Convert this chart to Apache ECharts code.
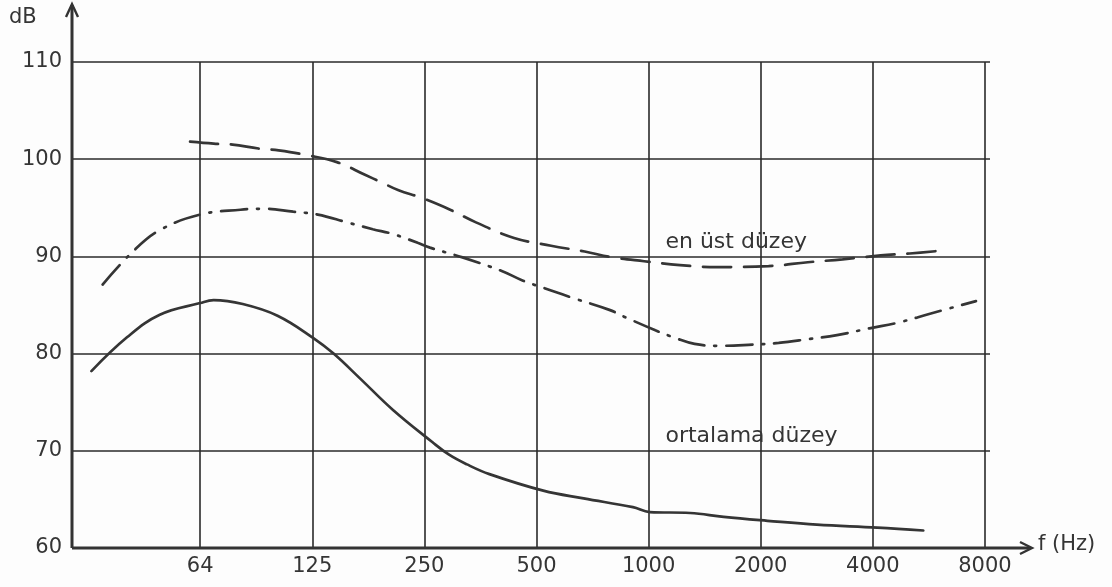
<!DOCTYPE html>
<html><head><meta charset="utf-8">
<script src="https://cdn.jsdelivr.net/npm/echarts@6/dist/echarts.min.js"></script>
<style>html,body{margin:0;padding:0;background:#fdfdfd}#c{width:1112px;height:587px}</style>
</head><body><div id="c"></div>
<script>
// x positions are octave indices: log2(f) (64 Hz = 6 ... 8000 Hz ~ 13)
const octaveTicks = [6, 7, 8, 9, 10, 11, 12, 13];
const tickLabels = ['64', '125', '250', '500', '1000', '2000', '4000', '8000'];
const yMin = 60, yMax = 110, yStep = 10;

// "en üst düzey" (dashed)
const upperX = [5.91, 6.12, 6.29, 6.52, 6.70, 6.96, 7.22, 7.47, 7.62, 7.77, 7.98, 8.23, 8.46, 8.80, 9.13, 9.43, 9.68, 9.96, 10.28, 10.61, 11.07, 11.42, 11.73, 12.07, 12.33, 12.62];
const upperDb = [101.8, 101.6, 101.5, 101.1, 100.9, 100.4, 99.7, 98.4, 97.6, 96.8, 96.0, 94.8, 93.5, 91.9, 91.1, 90.5, 89.9, 89.5, 89.1, 88.9, 89.0, 89.4, 89.7, 90.1, 90.3, 90.6];

// dash-dot curve
const midX = [5.13, 5.40, 5.64, 6.00, 6.36, 6.56, 6.83, 7.05, 7.31, 7.54, 7.72, 7.94, 8.05, 8.34, 8.69, 8.88, 9.13, 9.33, 9.65, 9.80, 10.06, 10.24, 10.41, 10.63, 10.89, 11.16, 11.43, 11.68, 11.97, 12.23, 12.51, 12.92];
const midDb = [87.1, 90.5, 92.7, 94.3, 94.8, 94.9, 94.6, 94.3, 93.5, 92.8, 92.3, 91.4, 90.9, 89.9, 88.5, 87.5, 86.5, 85.7, 84.5, 83.7, 82.4, 81.6, 81.0, 80.8, 80.9, 81.1, 81.5, 81.9, 82.6, 83.2, 84.1, 85.4];

// "ortalama düzey" (solid)
const avgX = [5.03, 5.35, 5.64, 6.00, 6.12, 6.38, 6.69, 7.01, 7.19, 7.43, 7.72, 8.07, 8.22, 8.38, 8.58, 9.06, 9.42, 9.86, 10.01, 10.37, 10.67, 11.06, 11.50, 12.04, 12.45];
const avgDb = [78.2, 81.7, 84.0, 85.2, 85.5, 85.1, 83.9, 81.6, 80.0, 77.4, 74.2, 70.9, 69.6, 68.6, 67.6, 65.9, 65.1, 64.2, 63.7, 63.6, 63.2, 62.8, 62.4, 62.1, 61.8];

const labelUpper = 'en üst düzey';
const labelAvg = 'ortalama düzey';

const zip = (xs, ys) => xs.map((x, i) => [x, ys[i]]);
const ink = '#353535';
const font = 'DejaVu Sans';
const xMin = 4.857, xMax = 13.045;

const chart = echarts.init(document.getElementById('c'), null, {renderer: 'canvas'});
chart.setOption({
  backgroundColor: '#fdfdfd',
  animation: false,
  grid: {left: 72, right: 122, top: 62, bottom: 39},
  xAxis: {
    type: 'value', min: xMin, max: xMax,
    axisLine: {show: false},
    axisTick: {show: false, customValues: octaveTicks},
    axisLabel: {
      customValues: octaveTicks, color: ink, fontFamily: font, fontSize: 21, margin: 8,
      formatter: v => tickLabels[octaveTicks.indexOf(Math.round(v))] || ''
    },
    splitLine: {show: true, lineStyle: {color: '#2a2a2a', width: 1.6}}
  },
  yAxis: {
    type: 'value', min: yMin, max: yMax, interval: yStep,
    axisLine: {show: false}, axisTick: {show: false},
    axisLabel: {color: ink, fontFamily: font, fontSize: 21, margin: 10},
    splitLine: {show: true, lineStyle: {color: '#2a2a2a', width: 1.6}}
  },
  series: [
    {type: 'line', data: zip(upperX, upperDb), smooth: 0.4, symbol: 'none',
     lineStyle: {color: ink, width: 2.7, type: [28, 13], cap: 'round'}},
    {type: 'line', data: zip(midX, midDb), smooth: 0.4, symbol: 'none',
     lineStyle: {color: ink, width: 2.7, type: [26, 10, 2, 10], cap: 'round'}},
    {type: 'line', data: zip(avgX, avgDb), smooth: 0.4, symbol: 'none',
     lineStyle: {color: ink, width: 2.7, cap: 'round'}}
  ]
});

const o = chart.convertToPixel({gridIndex: 0}, [xMin, yMin]);
const ax = o[0], ay = o[1];
const tUp = chart.convertToPixel({gridIndex: 0}, [10.15, 92.6]);
const tAvg = chart.convertToPixel({gridIndex: 0}, [10.15, 72.6]);
chart.setOption({
  graphic: [
    {type: 'line', shape: {x1: ax, y1: ay, x2: ax, y2: 5}, style: {stroke: '#333', lineWidth: 3}},
    {type: 'polyline', shape: {points: [[ax - 6, 17], [ax, 4], [ax + 6, 17]]}, style: {stroke: '#333', lineWidth: 2.4, fill: null}},
    {type: 'line', shape: {x1: ax, y1: ay, x2: 1030, y2: ay}, style: {stroke: '#333', lineWidth: 3}},
    {type: 'polyline', shape: {points: [[1020, ay - 6], [1032, ay], [1020, ay + 6]]}, style: {stroke: '#333', lineWidth: 2.4, fill: null}},
    {type: 'text', x: 9, y: 7, style: {text: 'dB', fill: ink, font: '21px "DejaVu Sans"'}},
    {type: 'text', x: 1038, y: ay - 14, style: {text: 'f (Hz)', fill: ink, font: '21px "DejaVu Sans"'}},
    {type: 'text', x: tUp[0], y: tUp[1], style: {text: labelUpper, fill: ink, font: '22px "DejaVu Sans"'}},
    {type: 'text', x: tAvg[0], y: tAvg[1], style: {text: labelAvg, fill: ink, font: '22px "DejaVu Sans"'}}
  ]
});
</script></body></html>
